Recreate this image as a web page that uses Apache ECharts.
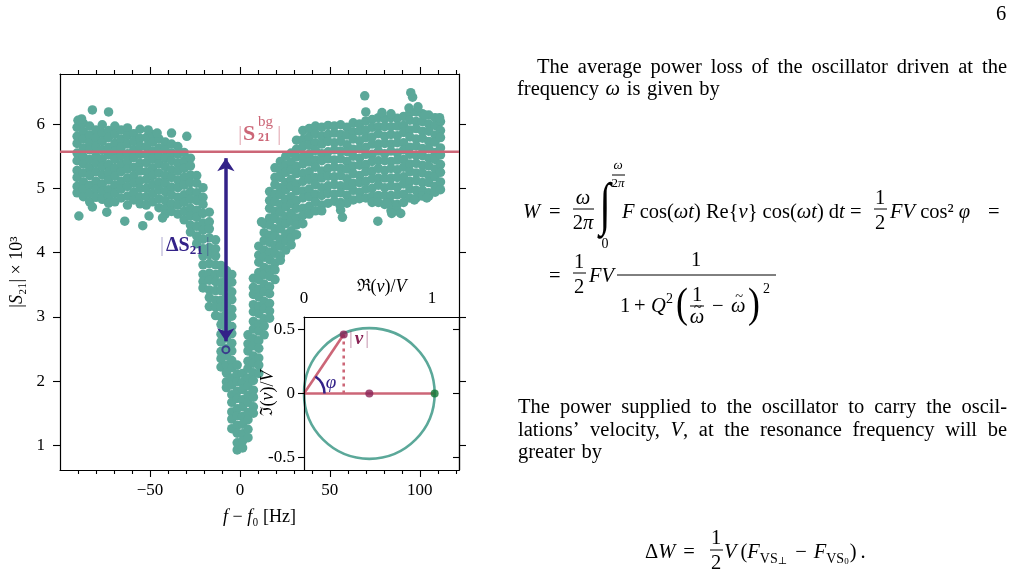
<!DOCTYPE html>
<html>
<head>
<meta charset="utf-8">
<script src="https://cdn.jsdelivr.net/npm/echarts@6.0.0/dist/echarts.min.js"></script>
<style>
html, body { margin: 0; padding: 0; background: #fff; }
#chart { width: 1013px; height: 573px; }
</style>
</head>
<body>
<div id="chart"></div>
<script>
// ---- data ----
var s21bg = 5.57;                       // |S21 bg| level (x 10^3)
var xMin = -100, xMax = 121.8, yMin = 0.617, yMax = 6.78;

// scatter cloud, one column of |S21| values per frequency offset
var colX = [-90.5, -87, -83.5, -80, -76.5, -73, -69.5, -66, -62.5, -59, -55.5, -52, -48.5, -45, -41.5, -38, -34.5, -31, -27.5,
  -24, -20.5, -17, -13.5, -10.5, -7.5, -4.5, -1.5, 1.5, 4.5, 7.5, 10.5, 13.5, 16.5, 19.5, 22.5, 25.5, 28.5, 31.5,
  35, 38.5, 42, 45.5, 49, 52.5, 56, 59.5, 63, 66.5, 70, 73.5, 77, 80.5, 84, 87.5, 91, 94.5, 98, 101.5, 105, 108.5, 111.5];
var colY = [
  [5.95, 5.81, 5.7, 5.55, 5.43, 5.28, 5.17, 5.03, 4.93],
  [6.01, 5.88, 5.77, 5.63, 5.49, 5.38, 5.24, 5.1, 4.99, 4.87],
  [5.97, 5.83, 5.71, 5.6, 5.45, 5.32, 5.2, 5.05, 4.92, 4.79],
  [5.91, 5.78, 5.65, 5.5, 5.39, 5.26, 5.11, 4.99, 4.86],
  [5.99, 5.86, 5.73, 5.6, 5.46, 5.34, 5.21, 5.07, 4.95, 4.83],
  [5.9, 5.79, 5.64, 5.52, 5.37, 5.25, 5.13, 4.98, 4.87, 4.77],
  [5.97, 5.84, 5.7, 5.58, 5.45, 5.31, 5.19, 5.05, 4.92, 4.79],
  [5.91, 5.77, 5.64, 5.51, 5.37, 5.26, 5.11, 4.99, 4.85],
  [5.94, 5.82, 5.69, 5.54, 5.42, 5.3, 5.16, 5.03, 4.88, 4.74],
  [5.85, 5.73, 5.6, 5.48, 5.33, 5.2, 5.08, 4.94, 4.82],
  [5.92, 5.78, 5.66, 5.53, 5.39, 5.27, 5.12, 5.0, 4.86, 4.76],
  [5.79, 5.65, 5.53, 5.4, 5.26, 5.14, 5.0, 4.87, 4.74],
  [5.84, 5.72, 5.58, 5.46, 5.32, 5.2, 5.06, 4.92, 4.79],
  [5.77, 5.63, 5.5, 5.38, 5.24, 5.1, 4.98, 4.84, 4.7],
  [5.72, 5.6, 5.47, 5.34, 5.2, 5.08, 4.95, 4.81, 4.68, 4.6],
  [5.69, 5.55, 5.43, 5.29, 5.17, 5.02, 4.9, 4.76, 4.64],
  [5.65, 5.53, 5.39, 5.27, 5.13, 5.01, 4.86, 4.74, 4.6],
  [5.56, 5.43, 5.31, 5.17, 5.05, 4.9, 4.78, 4.64, 4.51],
  [5.47, 5.35, 5.21, 5.09, 4.95, 4.83, 4.69, 4.57, 4.43, 4.32],
  [5.2, 5.08, 4.93, 4.81, 4.66, 4.55, 4.41, 4.26, 4.14],
  [5.01, 4.86, 4.75, 4.61, 4.46, 4.35, 4.21, 4.06, 3.95, 3.81, 3.66, 3.55, 3.45],
  [4.63, 4.48, 4.37, 4.23, 4.08, 3.97, 3.83, 3.68, 3.57, 3.42, 3.3, 3.16],
  [4.2, 4.06, 3.95, 3.81, 3.66, 3.55, 3.41, 3.26, 3.15, 3.02],
  [3.8, 3.68, 3.53, 3.41, 3.26, 3.15, 3.0, 2.88, 2.73, 2.61, 2.46, 2.35, 2.22],
  [3.72, 3.58, 3.47, 3.31, 3.2, 3.05, 2.93, 2.78, 2.67, 2.51, 2.4, 2.25, 2.13, 1.99, 1.9],
  [3.66, 3.54, 3.39, 3.27, 3.12, 3.01, 2.85, 2.74, 2.59, 2.47, 2.32, 2.21, 2.05, 1.94, 1.79, 1.67, 1.52, 1.41, 1.26],
  [2.25, 2.11, 1.99, 1.84, 1.73, 1.57, 1.46, 1.31, 1.19, 1.04, 0.93],
  [2.12, 1.98, 1.87, 1.71, 1.6, 1.45, 1.33, 1.18, 1.07, 0.96],
  [2.72, 2.58, 2.47, 2.31, 2.2, 2.05, 1.93, 1.78, 1.67, 1.51, 1.4, 1.25, 1.12],
  [3.6, 3.46, 3.35, 3.19, 3.08, 2.93, 2.81, 2.66, 2.55, 2.39, 2.28, 2.13, 2.01, 1.86, 1.75, 1.6, 1.5],
  [4.1, 3.96, 3.85, 3.69, 3.58, 3.43, 3.31, 3.16, 3.05, 2.89, 2.78, 2.63, 2.51, 2.36, 2.25, 2.12],
  [4.45, 4.31, 4.19, 4.04, 3.93, 3.77, 3.66, 3.51, 3.39, 3.24, 3.13, 2.97, 2.86, 2.72],
  [4.95, 4.81, 4.69, 4.54, 4.43, 4.27, 4.16, 4.01, 3.89, 3.74, 3.63, 3.47, 3.36, 3.21, 3.09, 2.98],
  [5.32, 5.17, 5.06, 4.91, 4.79, 4.64, 4.53, 4.37, 4.26, 4.11, 3.99, 3.84, 3.73, 3.58],
  [5.42, 5.28, 5.17, 5.01, 4.9, 4.75, 4.63, 4.48, 4.37, 4.21, 4.1, 3.95, 3.88],
  [5.5, 5.36, 5.25, 5.09, 4.98, 4.83, 4.71, 4.56, 4.45, 4.29, 4.18, 4.04],
  [5.55, 5.41, 5.29, 5.14, 5.03, 4.87, 4.76, 4.61, 4.49, 4.34, 4.23, 4.12],
  [5.75, 5.61, 5.49, 5.34, 5.23, 5.07, 4.96, 4.81, 4.69, 4.54, 4.43, 4.28],
  [5.9, 5.76, 5.65, 5.49, 5.38, 5.23, 5.11, 4.96, 4.85, 4.69, 4.58, 4.45],
  [5.93, 5.8, 5.67, 5.53, 5.41, 5.26, 5.14, 4.99, 4.87, 4.72, 4.6],
  [5.97, 5.85, 5.71, 5.59, 5.44, 5.33, 5.17, 5.06, 4.91, 4.79, 4.65],
  [5.95, 5.81, 5.69, 5.54, 5.43, 5.27, 5.16, 5.01, 4.89, 4.74, 4.65],
  [5.98, 5.84, 5.73, 5.57, 5.46, 5.31, 5.19, 5.04, 4.92, 4.77],
  [5.97, 5.86, 5.71, 5.6, 5.44, 5.33, 5.18, 5.06, 4.91, 4.8],
  [5.99, 5.84, 5.73, 5.58, 5.46, 5.31, 5.2, 5.04, 4.93, 4.78, 4.66],
  [5.95, 5.83, 5.68, 5.57, 5.42, 5.3, 5.15, 5.04, 4.89, 4.77],
  [6.02, 5.88, 5.77, 5.61, 5.5, 5.35, 5.23, 5.08, 4.97, 4.82],
  [6.0, 5.89, 5.74, 5.62, 5.47, 5.36, 5.2, 5.09, 4.94, 4.84],
  [6.05, 5.91, 5.79, 5.64, 5.53, 5.37, 5.26, 5.11, 4.99, 4.85],
  [6.07, 5.95, 5.8, 5.69, 5.53, 5.42, 5.27, 5.15, 5.0, 4.88, 4.78],
  [6.1, 5.96, 5.85, 5.69, 5.58, 5.43, 5.31, 5.16, 5.05, 4.89, 4.78],
  [6.08, 5.96, 5.81, 5.7, 5.54, 5.43, 5.28, 5.16, 5.01, 4.89, 4.75],
  [6.1, 5.96, 5.84, 5.69, 5.58, 5.42, 5.31, 5.16, 5.04, 4.89, 4.77, 4.65],
  [6.09, 5.97, 5.82, 5.71, 5.55, 5.44, 5.29, 5.17, 5.02, 4.9, 4.75, 4.65],
  [6.12, 5.98, 5.87, 5.71, 5.6, 5.45, 5.33, 5.18, 5.07, 4.91, 4.78],
  [6.18, 6.06, 5.91, 5.8, 5.64, 5.53, 5.38, 5.26, 5.11, 4.99, 4.85],
  [6.19, 6.04, 5.93, 5.77, 5.66, 5.51, 5.39, 5.24, 5.12, 4.97, 4.85],
  [6.16, 6.04, 5.89, 5.78, 5.62, 5.51, 5.36, 5.24, 5.09, 4.97, 4.88],
  [6.14, 6.0, 5.89, 5.73, 5.62, 5.47, 5.35, 5.2, 5.09, 4.93, 4.88],
  [6.1, 5.98, 5.83, 5.72, 5.56, 5.45, 5.3, 5.18, 5.03, 4.94],
  [6.04, 5.9, 5.79, 5.63, 5.52, 5.37, 5.25, 5.1, 4.98]
];
// isolated points off the main cloud
var strayPts = [
  [-90, 6.06], [-88, 6.08], [-82, 6.22], [-73, 6.19], [-51, 5.91], [-46, 5.86], [-38, 5.86], [-29.5, 5.81],
  [-89.5, 4.57], [-82, 4.71], [-74, 4.63], [-64, 4.49], [-54, 4.42], [-50.5, 4.57], [-43, 4.54],
  [12, 4.48],
  [69.4, 6.44], [70, 6.19], [79, 6.18], [84, 6.16], [94, 6.25], [95, 6.49], [96, 6.42], [99, 6.27], [102.8, 6.14], [111, 6.1],
  [55.6, 4.74], [57, 4.55], [76.7, 4.49], [81.6, 4.77], [84.4, 4.61], [89.4, 4.61], [97, 4.82], [103.9, 4.85]
];
var arrowX = -7.8, arrowTop = 5.47, arrowBottom = 2.62;
var dipMark = [[-7.8, 2.49]];

// main axes ticks
var mainXTicks = [-50, 0, 50, 100];
var mainXMinor = [-90, -80, -70, -60, -40, -30, -20, -10, 10, 20, 30, 40, 60, 70, 80, 90, 110, 120];
var mainYTicks = [1, 2, 3, 4, 5, 6];

// inset: complex velocity plane
var inXMin = 0, inXMax = 1.21, inYMin = -0.596, inYMax = 0.596;
var insetXTicks = [0, 1];
var insetYTicks = [-0.5, 0, 0.5];
var circleRe = [[0.51, 0, 0.51]];       // centre re, centre im, radius
var vPoint = [0.31, 0.46];
var centrePt = [0.51, 0];
var resPt = [1.02, 0];
var phiArc = [[0, 0, 0.16]];            // vertex re, vertex im, radius

var SERIF = "'Liberation Serif', 'DejaVu Serif', serif";
var TEAL = '#5ba899', ROSE = '#CC6677', INDIGO = '#332288', WINE = '#882255', GREEN = '#117733';
var FS = 20.5;

var scatterData = [];
colX.forEach(function (x, i) {
  colY[i].forEach(function (y) { scatterData.push([x, y]); });
});
strayPts.forEach(function (p) { scatterData.push(p); });

function richFor(size) {
  return {
    i: {fontStyle: 'italic', fontFamily: SERIF, fontSize: size, color: '#000'},
    r: {fontFamily: "'DejaVu Serif', serif", fontSize: size - 1, color: '#000'}
  };
}

function ax(o) {
  return {
    type: 'value', gridIndex: o.grid, position: o.pos, min: o.min, max: o.max, z: o.z || 0,
    splitLine: {show: false},
    axisLine: {show: o.line !== false, onZero: false, lineStyle: {color: '#000', width: 1.2}},
    axisTick: o.ticks ? {show: true, customValues: o.ticks, length: o.len || 7, inside: !!o.inside,
      lineStyle: {color: '#000', width: 1.1}} : {show: false},
    axisLabel: o.labels ? {show: true, customValues: o.labels, margin: o.margin, formatter: o.fmt,
      fontFamily: SERIF, fontSize: 17, color: '#000'} : {show: false},
    name: o.name || '', nameLocation: 'middle', nameGap: o.gap || 0, nameMoveOverlap: false,
    nameTextStyle: {fontFamily: SERIF, fontSize: 18, color: '#000', rich: richFor(18)}
  };
}

// ---- page text as graphic elements ----
var g = [];
function T(x, y, s, o) {
  o = o || {};
  var el = {
    type: 'text', x: x, y: y, silent: true, z: 100,
    style: {
      text: s, fontFamily: o.family || SERIF, fontSize: o.size || FS,
      fontStyle: o.it ? 'italic' : 'normal', fontWeight: o.bold ? 'bold' : 'normal',
      fill: o.color || '#000', opacity: o.op == null ? 1 : o.op,
      textAlign: o.align || 'left', textVerticalAlign: 'middle'
    }
  };
  if (o.rich) el.style.rich = o.rich;
  if (o.sx) el.scaleX = o.sx;
  g.push(el);
  return el;
}
function M(x, y, s, o) { o = o || {}; o.rich = richFor(o.size || FS); return T(x, y, s, o); }
function bar(x1, x2, y) {
  g.push({type: 'line', silent: true, z: 100, shape: {x1: x1, y1: y, x2: x2, y2: y}, style: {stroke: '#000', lineWidth: 1}});
}

var mctx = document.createElement('canvas').getContext('2d');
function wOf(s, size, it, bold) {
  mctx.font = (it ? 'italic ' : '') + (bold ? 'bold ' : '') + size + 'px ' + SERIF;
  return mctx.measureText(s).width;
}
// pieces laid one after another; returns the x where the next piece would start
function seq(x, y, parts) {
  parts.forEach(function (p) {
    var o = p[1] || {};
    x += o.pre || 0;
    T(x, y + (o.dy || 0), p[0], o);
    x += wOf(p[0], o.size || FS, o.it, o.bold);
  });
  return x;
}
function textLine(words, x0, x1, y, size) {
  var segs = words.map(function (w) {
    return w.split('|').map(function (p) { return {t: p.replace(/^\*/, ''), it: p.charAt(0) === '*'}; });
  });
  var widths = segs.map(function (ss) {
    return ss.reduce(function (a, p) { return a + wOf(p.t, size, p.it); }, 0);
  });
  var sum = widths.reduce(function (a, b) { return a + b; }, 0);
  var gap = x1 ? (x1 - x0 - sum) / (words.length - 1) : wOf(' ', size) * 1.3;
  var x = x0;
  segs.forEach(function (ss, i) {
    var xx = x;
    ss.forEach(function (p) { T(xx, y, p.t, {size: size, it: p.it}); xx += wOf(p.t, size, p.it); });
    x += widths[i] + gap;
  });
}
function omegaTilde(x, y, size, align) {
  T(x, y, 'ω', {it: true, size: size, align: align || 'left'});
  var cx = align === 'center' ? x : x + wOf('ω', size, true) / 2;
  T(cx + 1, y - 10, '~', {size: size - 6, align: 'center'});
}

T(1001, 15, '6', {align: 'center'});
textLine(['The', 'average', 'power', 'loss', 'of', 'the', 'oscillator', 'driven', 'at', 'the'], 537, 1007, 68, FS);
textLine(['frequency', '*ω', 'is', 'given', 'by'], 517, null, 90, FS);
textLine(['The', 'power', 'supplied', 'to', 'the', 'oscillator', 'to', 'carry', 'the', 'oscil-'], 518, 1007, 408, FS);
textLine(['lations\u2019', 'velocity,', '*V|,', 'at', 'the', 'resonance', 'frequency', 'will', 'be'], 518, 1007, 431, FS);
textLine(['greater', 'by'], 518, null, 453, FS);

// equation 1
T(523, 213, 'W', {it: true});
T(549, 213, '=');
T(583, 199, 'ω', {it: true, align: 'center'}); bar(573, 594, 209); M(583, 224, '2{i|π}', {align: 'center'});
T(605, 208, '\u222b', {size: 58, align: 'center', sx: 0.7});
T(618, 166, 'ω', {it: true, size: 13, align: 'center'}); bar(612, 625, 175); M(618, 184, '2{i|π}', {size: 13, align: 'center'});
T(605, 244, '0', {size: 14, align: 'center'});
M(622, 213, '{i|F} cos({i|ωt}) Re{{i|v}} cos({i|ωt}) d{i|t}');
T(850, 213, '=');
T(880, 199, '1', {align: 'center'}); bar(874, 887, 209); T(880, 224, '2', {align: 'center'});
M(890, 213, '{i|FV} cos\u00b2 {i|φ}');
T(988, 213, '=');

// equation 2
T(549, 277, '=');
T(579, 263, '1', {align: 'center'}); bar(573, 586, 273); T(579, 288, '2', {align: 'center'});
M(589, 277, '{i|FV}');
T(696, 261, '1', {align: 'center'}); bar(617, 776, 275);
T(620, 307, '1');
T(634, 307, '+');
T(651, 307, 'Q', {it: true}); T(666, 299, '2', {size: 14});
T(676, 306, '(', {size: 42, sx: 0.85});
T(697, 296, '1', {align: 'center'}); bar(690, 704, 306); omegaTilde(697, 318, FS, 'center');
T(712, 307, '\u2212'); omegaTilde(731, 307, FS);
T(748, 306, ')', {size: 42, sx: 0.85});
T(763, 289, '2', {size: 14});

// equation 3
var ex = seq(645, 553, [['Δ'], ['W', {it: true}]]);
T(ex + 8, 553, '=');
T(716, 539, '1', {align: 'center'}); bar(710, 723, 550); T(716, 564, '2', {align: 'center'});
ex = seq(724, 553, [['V', {it: true}], ['(', {pre: 4}], ['F', {it: true}]]);
ex = seq(ex, 559, [['VS', {size: 14}], ['\u22a5', {size: 10, dy: 2}]]);
ex = seq(ex + 8, 553, [['\u2212'], ['F', {it: true, pre: 7}]]);
ex = seq(ex, 559, [['VS', {size: 14}], ['0', {size: 9, dy: 3}]]);
seq(ex + 1, 553, [[')'], ['.', {pre: 4}]]);

// annotations inside the plot
T(238, 134, '|', {size: 22, color: ROSE, op: 0.55});
T(243, 134, 'S', {size: 22, bold: true, color: ROSE});
T(258, 122, 'bg', {size: 15, color: ROSE});
T(258, 138, '21', {size: 12, bold: true, color: ROSE});
T(277, 134, '|', {size: 22, color: ROSE, op: 0.55});

seq(160, 246, [
  ['|', {size: 20, color: INDIGO, op: 0.4}],
  ['ΔS', {size: 20, bold: true, color: INDIGO, pre: 2}],
  ['21', {size: 13, bold: true, color: INDIGO, dy: 5}],
  ['|', {size: 20, color: INDIGO, op: 0.4, pre: 3}]
]);

T(331, 383, 'φ', {it: true, size: 19, color: INDIGO, align: 'center'});
seq(349, 339, [
  ['|', {size: 19, color: WINE, op: 0.5}],
  ['v', {it: true, bold: true, size: 19, color: WINE, pre: 2}],
  ['|', {size: 19, color: WINE, op: 0.5, pre: 2}]
]);

function fmtMinus(v) { return v < 0 ? '\u2212' + (-v) : String(v); }

var option = {
  animation: false,
  backgroundColor: '#fff',
  grid: [
    {left: 60, top: 74, right: 554, bottom: 103, containLabel: false, outerBoundsMode: 'none'},
    {left: 304, top: 317, right: 554, bottom: 103, containLabel: false, outerBoundsMode: 'none'}
  ],
  xAxis: [
    ax({grid: 0, pos: 'bottom', min: xMin, max: xMax, ticks: mainXTicks, labels: mainXTicks, margin: 12, fmt: fmtMinus,
      name: '{i|f} \u2212 {i|f}\u2080 [Hz]', gap: 38}),
    ax({grid: 0, pos: 'bottom', min: xMin, max: xMax, ticks: mainXMinor, len: 4, line: false}),
    ax({grid: 0, pos: 'top', min: xMin, max: xMax, ticks: mainXTicks}),
    ax({grid: 0, pos: 'top', min: xMin, max: xMax, ticks: mainXMinor, len: 4, line: false}),
    ax({grid: 1, pos: 'top', min: inXMin, max: inXMax, labels: insetXTicks, margin: 10, z: 6,
      name: '{r|\u211c}({i|v})/{i|V}', gap: 21})
  ],
  yAxis: [
    ax({grid: 0, pos: 'left', min: yMin, max: yMax, ticks: mainYTicks, labels: mainYTicks, margin: 15,
      name: '|{i|S}\u2082\u2081| \u00d7 10\u00b3', gap: 34}),
    ax({grid: 0, pos: 'right', min: yMin, max: yMax, ticks: mainYTicks}),
    ax({grid: 1, pos: 'left', min: inYMin, max: inYMax, ticks: insetYTicks, len: 6, labels: insetYTicks, margin: 9, z: 6,
      name: '{r|\u2111}({i|v})/{i|V}', gap: 27}),
    ax({grid: 1, pos: 'right', min: inYMin, max: inYMax, ticks: insetYTicks, len: 6, inside: true, z: 6})
  ],
  series: [
    {
      type: 'scatter', xAxisIndex: 0, yAxisIndex: 0, data: scatterData, symbolSize: 9.5,
      itemStyle: {color: TEAL, opacity: 1}, emphasis: {disabled: true}, silent: true, z: 2
    },
    {
      type: 'line', xAxisIndex: 0, yAxisIndex: 0, data: [[xMin, s21bg], [xMax, s21bg]], symbol: 'none',
      lineStyle: {color: ROSE, width: 2.6}, emphasis: {disabled: true}, silent: true, z: 3
    },
    {
      type: 'scatter', xAxisIndex: 0, yAxisIndex: 0, data: dipMark, symbol: 'circle', symbolSize: 7,
      itemStyle: {color: 'rgba(0,0,0,0)', borderColor: INDIGO, borderWidth: 2}, emphasis: {disabled: true}, silent: true, z: 5,
      markLine: {
        silent: true, symbol: ['arrow', 'arrow'], symbolSize: 13, label: {show: false},
        lineStyle: {color: INDIGO, width: 3.5, type: 'solid'}, emphasis: {disabled: true}, animation: false,
        data: [[{coord: [arrowX, arrowTop]}, {coord: [arrowX, arrowBottom]}]]
      }
    },
    {
      type: 'custom', xAxisIndex: 4, yAxisIndex: 2, data: circleRe, silent: true, z: 2,
      renderItem: function (params, api) {
        var c = api.coord([api.value(0), api.value(1)]);
        var r = api.size([api.value(2), 0])[0];
        return {type: 'circle', shape: {cx: c[0], cy: c[1], r: r}, style: {fill: 'none', stroke: TEAL, lineWidth: 2.6}};
      }
    },
    {
      type: 'line', xAxisIndex: 4, yAxisIndex: 2, data: [[0, 0], resPt], symbol: 'none',
      lineStyle: {color: ROSE, width: 2.6}, emphasis: {disabled: true}, silent: true, z: 3
    },
    {
      type: 'line', xAxisIndex: 4, yAxisIndex: 2, data: [[0, 0], vPoint], symbol: 'none',
      lineStyle: {color: ROSE, width: 2.6}, emphasis: {disabled: true}, silent: true, z: 3
    },
    {
      type: 'line', xAxisIndex: 4, yAxisIndex: 2, data: [vPoint, [vPoint[0], 0]], symbol: 'none',
      lineStyle: {color: ROSE, width: 2.6, type: [3, 4]}, emphasis: {disabled: true}, silent: true, z: 3
    },
    {
      type: 'custom', xAxisIndex: 4, yAxisIndex: 2, data: phiArc, silent: true, z: 4,
      renderItem: function (params, api) {
        var o = api.coord([api.value(0), api.value(1)]);
        var p = api.coord(vPoint);
        var ang = Math.atan2(p[1] - o[1], p[0] - o[0]);
        var r = api.size([api.value(2), 0])[0];
        return {type: 'arc', shape: {cx: o[0], cy: o[1], r: r, startAngle: ang, endAngle: 0, clockwise: true},
          style: {fill: 'none', stroke: INDIGO, lineWidth: 2.6}};
      }
    },
    {
      type: 'scatter', xAxisIndex: 4, yAxisIndex: 2, data: [vPoint, centrePt], symbolSize: 8,
      itemStyle: {color: WINE}, emphasis: {disabled: true}, silent: true, z: 6
    },
    {
      type: 'scatter', xAxisIndex: 4, yAxisIndex: 2, data: [resPt], symbolSize: 8,
      itemStyle: {color: GREEN}, emphasis: {disabled: true}, silent: true, z: 6
    }
  ],
  graphic: {elements: g}
};

var chart = echarts.init(document.getElementById('chart'));
chart.setOption(option);
</script>
</body>
</html>
